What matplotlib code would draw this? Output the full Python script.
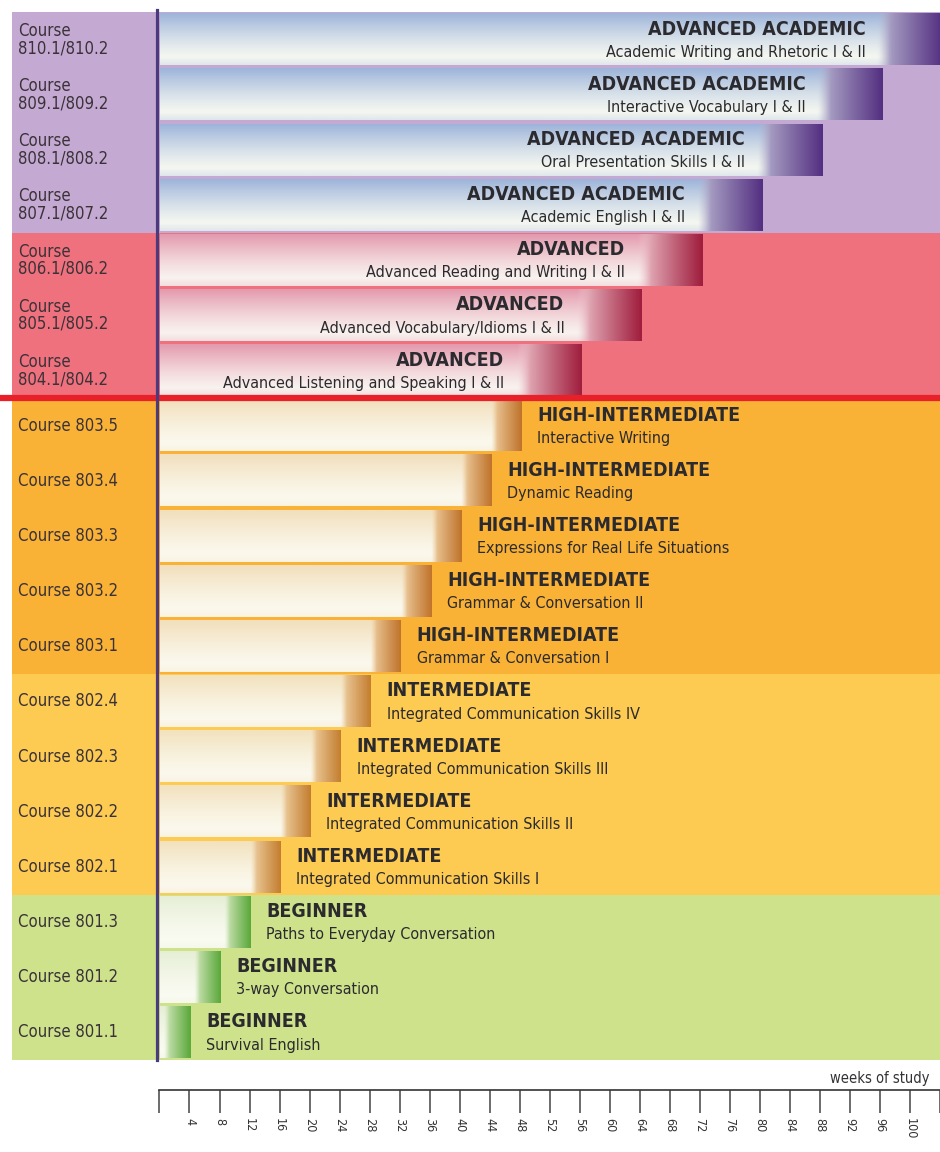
import numpy as np
import matplotlib
matplotlib.use("Agg")
import matplotlib.pyplot as plt
from matplotlib import font_manager
from matplotlib.colors import to_rgb

# ---- data ----
codes = ["801.1", "801.2", "801.3", "802.1", "802.2", "802.3", "802.4",
         "803.1", "803.2", "803.3", "803.4", "803.5",
         "804.1/804.2", "805.1/805.2", "806.1/806.2",
         "807.1/807.2", "808.1/808.2", "809.1/809.2", "810.1/810.2"]
levels = ["BEGINNER"] * 3 + ["INTERMEDIATE"] * 4 + ["HIGH-INTERMEDIATE"] * 5 + \
         ["ADVANCED"] * 3 + ["ADVANCED ACADEMIC"] * 4
titles = ["Survival English", "3-way Conversation", "Paths to Everyday Conversation",
          "Integrated Communication Skills I", "Integrated Communication Skills II",
          "Integrated Communication Skills III", "Integrated Communication Skills IV",
          "Grammar & Conversation I", "Grammar & Conversation II",
          "Expressions for Real Life Situations", "Dynamic Reading", "Interactive Writing",
          "Advanced Listening and Speaking I & II", "Advanced Vocabulary/Idioms I & II",
          "Advanced Reading and Writing I & II", "Academic English I & II",
          "Oral Presentation Skills I & II", "Interactive Vocabulary I & II",
          "Academic Writing and Rhetoric I & II"]
weeks = [4, 8, 12, 16, 20, 24, 28, 32, 36, 40, 44, 48, 56, 64, 72, 80, 88, 96, 104]
tick_weeks = list(range(0, 105, 4))

# ---- styles per level ----
band_color = {"BEGINNER": "#CDE28B", "INTERMEDIATE": "#FDCA52", "HIGH-INTERMEDIATE": "#F9B236",
              "ADVANCED": "#EE717D", "ADVANCED ACADEMIC": "#C4A9D2"}
bar_top = {"BEGINNER": "#E6EFD6", "INTERMEDIATE": "#F2E2BE", "HIGH-INTERMEDIATE": "#F2DFBC",
           "ADVANCED": "#E49AAE", "ADVANCED ACADEMIC": "#9DB4DA"}
bar_mid = {"BEGINNER": "#FAFBF2", "INTERMEDIATE": "#FBF9EE", "HIGH-INTERMEDIATE": "#FBF9EE",
           "ADVANCED": "#F9F4F0", "ADVANCED ACADEMIC": "#F6F8F1"}
end_light = {"BEGINNER": "#DCEBC6", "INTERMEDIATE": "#F2D8AE", "HIGH-INTERMEDIATE": "#F2D5AA",
             "ADVANCED": "#F2CCD3", "ADVANCED ACADEMIC": "#BDBCD4"}
end_dark = {"BEGINNER": "#5AA83A", "INTERMEDIATE": "#C47E30", "HIGH-INTERMEDIATE": "#C0742C",
            "ADVANCED": "#A01E3E", "ADVANCED ACADEMIC": "#553182"}
end_len = {"BEGINNER": 3.5, "INTERMEDIATE": 4, "HIGH-INTERMEDIATE": 4,
           "ADVANCED": 8.5, "ADVANCED ACADEMIC": 8.5}

names = {f.name for f in font_manager.fontManager.ttflist}
NARROW = "Liberation Sans Narrow" if "Liberation Sans Narrow" in names else "DejaVu Sans"
FONT = [NARROW, "DejaVu Sans"]
TXT = "#2B2A2E"
KW = dict(family=FONT, fontstretch="condensed")


def bar_image(w, lev, n=300, m=40):
    top = np.array(to_rgb(bar_top[lev]))
    mid = np.array(to_rgb(bar_mid[lev]))
    v = np.linspace(0, 1, m)[:, None, None]
    t = np.clip(1 - v / 0.9, 0, 1) ** 1.3 + 0.25 * np.clip((v - 0.85) / 0.15, 0, 1)
    img = mid + (top - mid) * t
    img = np.repeat(img, n, axis=1)
    xs = np.linspace(0, w, n)
    L = end_len[lev]
    s = np.clip((xs - (w - L)) / L, 0, 1)
    ec = np.array(to_rgb(end_light[lev])) + \
        (np.array(to_rgb(end_dark[lev])) - np.array(to_rgb(end_light[lev]))) * s[:, None] ** 0.9
    blend = np.clip(s / 0.2, 0, 1)[None, :, None] * (xs > w - L)[None, :, None]
    img = img * (1 - blend) + ec[None, :, :] * blend
    return np.clip(img, 0, 1)


fig = plt.figure(figsize=(9.4, 11.52), dpi=100)
ax = fig.add_axes([0, 0, 1, 1])
PXW = 7.53
ax.set_xlim(-160 / PXW, 780 / PXW)
ax.set_ylim(-1.668, 19.217)
ax.axis("off")

left = -148 / PXW
# background bands
for i, lev in enumerate(levels):
    ax.fill_between([left, 110], i, i + 1, color=band_color[lev], lw=0, zorder=0)

# bars
for i, (w, lev) in enumerate(zip(weeks, levels)):
    ax.imshow(bar_image(w, lev), extent=(0, w, i + 0.035, i + 0.965), aspect="auto",
              interpolation="bilinear", zorder=2)
    if lev in ("ADVANCED", "ADVANCED ACADEMIC"):
        xr, ha = w - 10.3, "right"
    else:
        xr, ha = w + 2.1, "left"
    ax.text(xr, i + 0.69, lev, ha=ha, va="center", fontsize=14, fontweight="bold",
            color=TXT, zorder=4, **KW)
    ax.text(xr, i + 0.27, titles[i], ha=ha, va="center", fontsize=11.5,
            color=TXT, zorder=4, **KW)
    label = "Course\n" + codes[i] if "/" in codes[i] else "Course " + codes[i]
    ax.text(-142 / PXW, i + 0.5, label, ha="left", va="center", fontsize=12,
            color="#3A3238", linespacing=0.95, zorder=4, **KW)

# red divider between high-intermediate and advanced
ax.plot([-30, 110], [12, 12], color="#E8202A", lw=4.5, solid_capstyle="butt", zorder=5)
# vertical axis line
ax.plot([-3 / PXW, -3 / PXW], [0, 19.04], color="#4A3C7C", lw=2.3, zorder=6)

# ruler axis
ax_r = fig.add_axes([0, 1 - 1090 / 1152, 1, 1e-4])
ax_r.set_xlim(ax.get_xlim())
ax_r.set_yticks([])
for sp in ("top", "left", "right"):
    ax_r.spines[sp].set_visible(False)
ax_r.spines["bottom"].set_bounds(0, 110)
ax_r.spines["bottom"].set_linewidth(1.2)
ax_r.spines["bottom"].set_color("#333333")
ax_r.set_xticks(tick_weeks)
ax_r.set_xticklabels(["" if t in (0, 104) else str(t) for t in tick_weeks], rotation=-90,
                     fontsize=9, color="#333333", **KW)
ax_r.tick_params(axis="x", direction="out", length=16.5, width=1.1, color="#444444", pad=4)
ax_r.patch.set_visible(False)

ax.text(89, -0.33, "weeks of study", ha="left", va="center", fontsize=10.5,
        color="#333333", **KW)

fig.savefig("out.png", dpi=100)
